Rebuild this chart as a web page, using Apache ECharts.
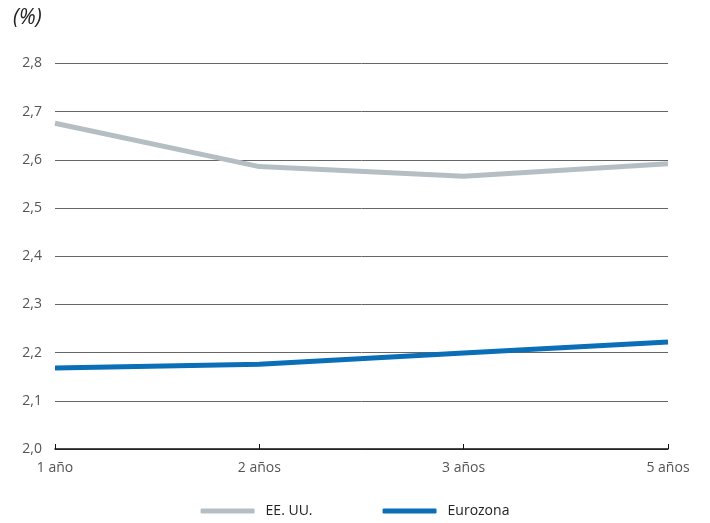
<!DOCTYPE html>
<html><head><meta charset="utf-8">
<script src="https://cdn.jsdelivr.net/npm/echarts@6/dist/echarts.min.js"></script>
<style>html,body{margin:0;padding:0;background:#fff}#c{width:710px;height:523px}</style>
</head><body><div id="c"></div>
<script>
var categories = ['1 año', '2 años', '3 años', '5 años'];
var usa = [2.676, 2.586, 2.566, 2.592];
var euro = [2.168, 2.176, 2.199, 2.222];
var yMin = 2.0, yMax = 2.8, yStep = 0.1;

var chart = echarts.init(document.getElementById('c'));
chart.setOption({
  animation: false,
  textStyle: { fontFamily: 'Open Sans' },
  title: { text: '(%)', left: 8, top: 3, textStyle: { fontSize: 21, fontStyle: 'italic', fontWeight: 'normal', color: '#222', fontFamily: 'Open Sans' } },
  grid: { left: 55, right: 42, top: 63.5, bottom: 74, containLabel: false },
  xAxis: {
    type: 'category', data: categories, boundaryGap: false,
    axisLine: { lineStyle: { color: '#111', width: 1.5 } },
    axisTick: { inside: true, length: 5, lineStyle: { color: '#111' } },
    axisLabel: { color: '#555', fontSize: 14, margin: 12 }
  },
  yAxis: {
    type: 'value', min: yMin, max: yMax, interval: yStep,
    axisLine: { show: false }, axisTick: { show: false },
    splitLine: { lineStyle: { color: '#666', width: 1 } },
    axisLabel: { color: '#555', fontSize: 14, margin: 13, formatter: function (v) { return v.toFixed(1).replace('.', ','); } }
  },
  legend: {
    bottom: 0, left: 'center', itemWidth: 54, itemHeight: 5, itemGap: 70, icon: 'roundRect',
    textStyle: { color: '#222', fontSize: 14, padding: [0, 0, 0, 6] },
    data: ['EE. UU.', 'Eurozona']
  },
  series: [
    { name: 'EE. UU.', type: 'line', data: usa, showSymbol: false, symbol: 'none', lineStyle: { color: '#b5bfc3', width: 5 }, itemStyle: { color: '#b5bfc3' } },
    { name: 'Eurozona', type: 'line', data: euro, showSymbol: false, symbol: 'none', lineStyle: { color: '#0a6fb6', width: 5 }, itemStyle: { color: '#0a6fb6' } }
  ]
});
</script></body></html>
